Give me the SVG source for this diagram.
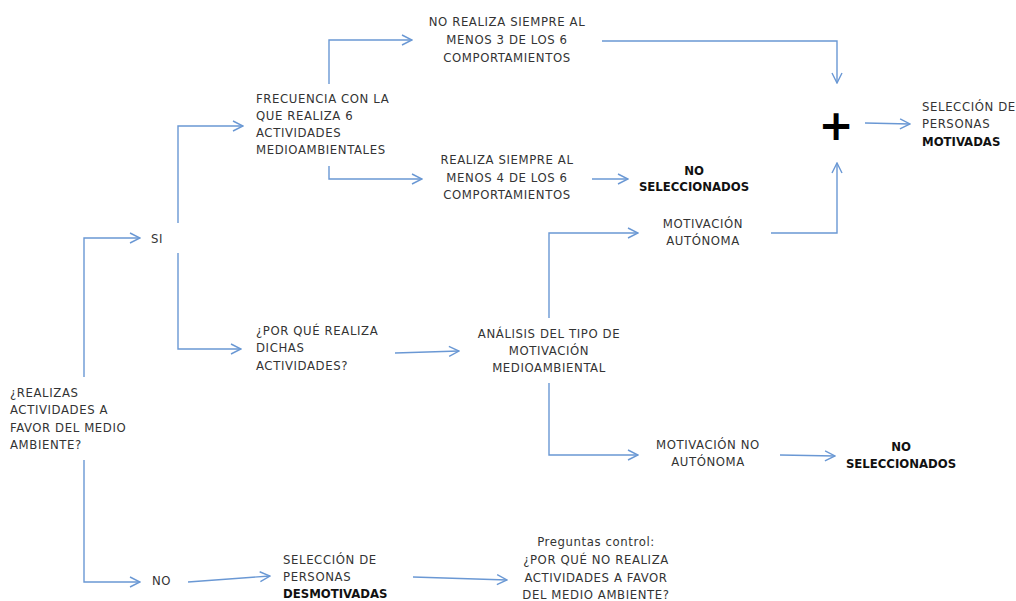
<svg xmlns="http://www.w3.org/2000/svg" width="1016" height="601" viewBox="0 0 1016 601">
  <style>
    text { font-family: "DejaVu Sans Condensed", "DejaVu Sans", sans-serif; font-size: 13px; fill: #333; letter-spacing: 0.6px; }
    .c { text-anchor: middle; }
    .b { font-weight: bold; fill: #111; letter-spacing: 0; }
    .link { fill: none; stroke: #6a98d4; stroke-width: 1.4; marker-end: url(#arrow); }
  </style>
  <defs>
    <marker id="arrow" viewBox="0 0 12 12" refX="11" refY="6" markerWidth="12" markerHeight="12" markerUnits="userSpaceOnUse" orient="auto">
      <path d="M1,1 L11,6 L1,11" fill="none" stroke="#6a98d4" stroke-width="1.4"/>
    </marker>
  </defs>
  <rect width="1016" height="601" fill="#fff"/>

  <g id="connectors">
    <path class="link" d="M84,377 V238 H140"/>
    <path class="link" d="M84,460 V582 H140"/>
    <path class="link" d="M178,223 V126 H243"/>
    <path class="link" d="M178,253 V349 H241"/>
    <path class="link" d="M188,582 L270,576"/>
    <path class="link" d="M413,577 L507,580"/>
    <path class="link" d="M329,84 V40 H412"/>
    <path class="link" d="M329,166 V179 H422"/>
    <path class="link" d="M602,41 H837 V83"/>
    <path class="link" d="M592,179 H628"/>
    <path class="link" d="M865,123 L910,124"/>
    <path class="link" d="M771,233 H837 V163"/>
    <path class="link" d="M549,318 V233 H638"/>
    <path class="link" d="M549,383 V455 H638"/>
    <path class="link" d="M395,353 L459,351"/>
    <path class="link" d="M780,455 L835,456"/>
  </g>

  <g id="q-realizas">
    <text x="10" y="397">¿REALIZAS</text>
    <text x="10" y="414">ACTIVIDADES A</text>
    <text x="10" y="432">FAVOR DEL MEDIO</text>
    <text x="10" y="449">AMBIENTE?</text>
  </g>
  <g id="si"><text x="151" y="243">SI</text></g>
  <g id="no"><text x="152" y="585">NO</text></g>

  <g id="frecuencia">
    <text x="256" y="103">FRECUENCIA CON LA</text>
    <text x="256" y="120">QUE REALIZA 6</text>
    <text x="256" y="137">ACTIVIDADES</text>
    <text x="256" y="154">MEDIOAMBIENTALES</text>
  </g>
  <g id="porque">
    <text x="256" y="335">¿POR QUÉ REALIZA</text>
    <text x="256" y="352">DICHAS</text>
    <text x="256" y="370">ACTIVIDADES?</text>
  </g>

  <g id="no-realiza-siempre">
    <text class="c" x="507" y="26">NO REALIZA SIEMPRE AL</text>
    <text class="c" x="507" y="44">MENOS 3 DE LOS 6</text>
    <text class="c" x="507" y="62">COMPORTAMIENTOS</text>
  </g>
  <g id="realiza-siempre">
    <text class="c" x="507" y="164">REALIZA SIEMPRE AL</text>
    <text class="c" x="507" y="182">MENOS 4 DE LOS 6</text>
    <text class="c" x="507" y="199">COMPORTAMIENTOS</text>
  </g>
  <g id="no-seleccionados-1">
    <text class="c b" x="694" y="175">NO</text>
    <text class="c b" x="694" y="191">SELECCIONADOS</text>
  </g>

  <g id="suma">
    <text class="c b" x="836" y="140" style="font-size:42px; font-family:'DejaVu Sans', sans-serif; fill:#000">+</text>
  </g>
  <g id="motivadas">
    <text x="922" y="111">SELECCIÓN DE</text>
    <text x="922" y="128">PERSONAS</text>
    <text class="b" x="922" y="146">MOTIVADAS</text>
  </g>

  <g id="autonoma">
    <text class="c" x="703" y="228">MOTIVACIÓN</text>
    <text class="c" x="703" y="245">AUTÓNOMA</text>
  </g>
  <g id="analisis">
    <text class="c" x="549" y="338">ANÁLISIS DEL TIPO DE</text>
    <text class="c" x="549" y="355">MOTIVACIÓN</text>
    <text class="c" x="549" y="372">MEDIOAMBIENTAL</text>
  </g>
  <g id="no-autonoma">
    <text class="c" x="708" y="449">MOTIVACIÓN NO</text>
    <text class="c" x="708" y="466">AUTÓNOMA</text>
  </g>
  <g id="no-seleccionados-2">
    <text class="c b" x="901" y="451">NO</text>
    <text class="c b" x="901" y="468">SELECCIONADOS</text>
  </g>

  <g id="desmotivadas">
    <text x="283" y="564">SELECCIÓN DE</text>
    <text x="283" y="581">PERSONAS</text>
    <text class="b" x="283" y="598">DESMOTIVADAS</text>
  </g>
  <g id="preguntas-control">
    <text class="c" x="596" y="546">Preguntas control:</text>
    <text class="c" x="596" y="564">¿POR QUÉ NO REALIZA</text>
    <text class="c" x="596" y="582">ACTIVIDADES A FAVOR</text>
    <text class="c" x="596" y="599">DEL MEDIO AMBIENTE?</text>
  </g>
</svg>
